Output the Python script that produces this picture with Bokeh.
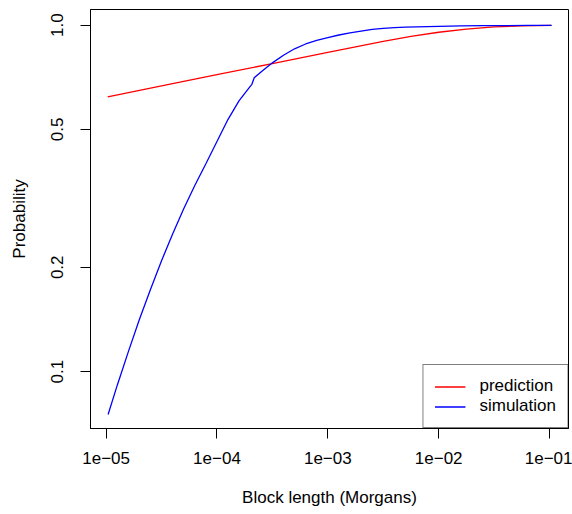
from bokeh.plotting import figure
from bokeh.models import FixedTicker, CustomJSTickFormatter, Range1d, Legend, LegendItem
from bokeh.embed import file_html
from bokeh.resources import INLINE

# ---- data ----
pred_x = [1.033e-5, 3.162e-5, 1e-4, 3.162e-4, 1e-3, 1.778e-3, 3.162e-3, 5.623e-3,
          1e-2, 1.778e-2, 3.162e-2, 5.623e-2, 0.1042]
pred_y = [0.6202, 0.6675, 0.7190, 0.7745, 0.8341, 0.8650, 0.8974, 0.9279,
          0.9533, 0.9732, 0.9879, 0.9947, 0.9984]

sim_x = [1.042e-5, 1.259e-5, 1.585e-5, 1.995e-5, 2.512e-5, 3.162e-5, 3.981e-5,
         5.012e-5, 6.310e-5, 7.943e-5, 1e-4, 1.259e-4, 1.585e-4, 1.995e-4,
         2.065e-4, 2.168e-4, 2.512e-4, 3.162e-4, 3.981e-4, 5.012e-4, 6.310e-4,
         7.943e-4, 1e-3, 1.259e-3, 1.585e-3, 1.995e-3, 2.512e-3, 3.162e-3,
         3.981e-3, 5.012e-3, 6.310e-3, 1e-2, 1.585e-2, 2.512e-2, 3.981e-2,
         6.310e-2, 0.1042]
sim_y = [0.0752, 0.0912, 0.1140, 0.1413, 0.1726, 0.2089, 0.2495,
         0.2951, 0.3443, 0.3981, 0.4613, 0.5346, 0.6053, 0.6653,
         0.6745, 0.7050, 0.7337, 0.7780, 0.8185, 0.8541, 0.8819,
         0.9026, 0.9204, 0.9361, 0.9495, 0.9612, 0.9716, 0.9784,
         0.9829, 0.9861, 0.9886, 0.9920, 0.9943, 0.9959, 0.9968,
         0.9975, 0.9979]

x_ticks = [1e-5, 1e-4, 1e-3, 1e-2, 1e-1]
x_tick_labels = ["1e\u221205", "1e\u221204", "1e\u221203", "1e\u221202", "1e\u221201"]
y_ticks = [0.1, 0.2, 0.5, 1.0]
y_tick_labels = ["0.1", "0.2", "0.5", "1.0"]

FONT = "Liberation Sans"
FS = "17px"

p = figure(width=572, height=514, output_backend="svg", toolbar_location=None,
           x_axis_type="log", y_axis_type="log",
           x_range=Range1d(7.23e-6, 0.1483), y_range=Range1d(0.0685, 1.109),
           min_border_left=90, min_border_right=4, min_border_top=9, min_border_bottom=86)

p.xgrid.visible = False
p.ygrid.visible = False
p.outline_line_color = "black"
p.outline_line_width = 1
p.background_fill_color = "white"
p.border_fill_color = "white"

lookup = """
let best = 0, bd = Infinity;
for (let i = 0; i < tvals.length; i++) {
  const d = Math.abs(Math.log10(tick) - Math.log10(tvals[i]));
  if (d < bd) { bd = d; best = i; }
}
return tlabels[best];
"""

p.xaxis.ticker = FixedTicker(ticks=x_ticks, minor_ticks=[])
p.yaxis.ticker = FixedTicker(ticks=y_ticks, minor_ticks=[])
p.xaxis.formatter = CustomJSTickFormatter(args=dict(tvals=x_ticks, tlabels=x_tick_labels), code=lookup)
p.yaxis.formatter = CustomJSTickFormatter(args=dict(tvals=y_ticks, tlabels=y_tick_labels), code=lookup)

for ax in (p.xaxis[0], p.yaxis[0]):
    ax.major_tick_in = 0
    ax.major_tick_out = 10
    ax.minor_tick_in = 0
    ax.minor_tick_out = 0
    ax.axis_line_color = "black"
    ax.major_tick_line_color = "black"
    ax.major_label_text_font = FONT
    ax.major_label_text_font_size = FS
    ax.major_label_text_color = "black"
    ax.axis_label_text_font = FONT
    ax.axis_label_text_font_size = FS
    ax.axis_label_text_font_style = "normal"
    ax.axis_label_text_color = "black"

p.xaxis.axis_label = "Block length (Morgans)"
p.yaxis.axis_label = "Probability"
p.xaxis.major_label_standoff = 13
p.xaxis.axis_label_standoff = 21
p.yaxis.major_label_standoff = 17
p.yaxis.major_label_orientation = "vertical"
p.yaxis.axis_label_standoff = 20

r1 = p.line(pred_x, pred_y, line_color="#FF0000", line_width=1.3)
r2 = p.line(sim_x, sim_y, line_color="#0000FF", line_width=1.3)

legend = Legend(items=[LegendItem(label="prediction", renderers=[r1]),
                       LegendItem(label="simulation", renderers=[r2])],
                location="bottom_right", margin=0, padding=11, spacing=0,
                glyph_width=31, glyph_height=19, label_height=19, label_standoff=14,
                border_line_color="black", border_line_width=1,
                background_fill_color="white", background_fill_alpha=1,
                label_text_font=FONT, label_text_font_size=FS, label_text_color="black")
p.add_layout(legend)

open("out.html", "w").write(file_html(p, INLINE))
